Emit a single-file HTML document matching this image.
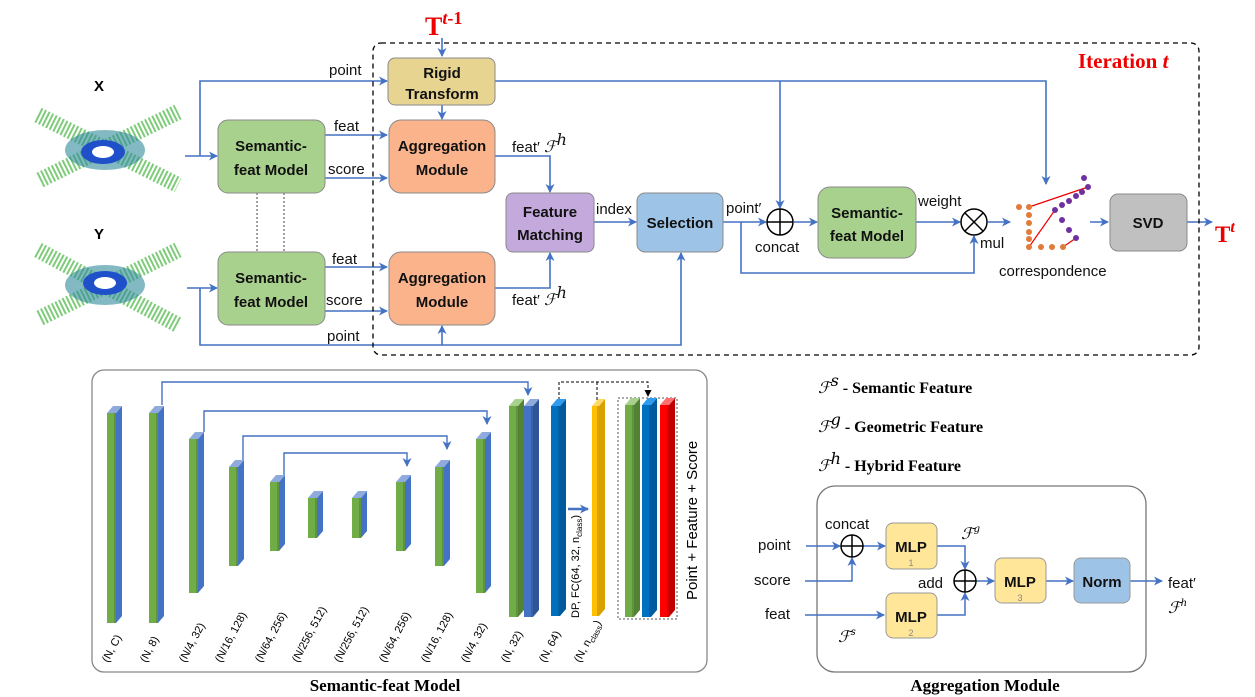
<!DOCTYPE html>
<html><head><meta charset="utf-8"><style>
body{margin:0;background:#fff}
svg{display:block;font-family:"Liberation Sans",sans-serif}
.bx{font-weight:bold;font-size:15px;fill:#111}
.lb{font-size:15px;fill:#111}
.sf{font-family:"Liberation Serif",serif;font-weight:bold}
.scr{font-family:"DejaVu Serif","Liberation Serif",serif;font-style:italic;font-size:16px}
</style></head><body>
<svg id="s" width="1255" height="697" viewBox="0 0 1255 697" xmlns="http://www.w3.org/2000/svg">
<defs>
<marker id="a" markerWidth="9" markerHeight="9" refX="8" refY="4.5" orient="auto" markerUnits="userSpaceOnUse"><path d="M0,0 L9,4.5 L0,9 L2.5,4.5z" fill="#4472c4"/></marker>
<marker id="k" markerWidth="7" markerHeight="7" refX="6" refY="3.5" orient="auto" markerUnits="userSpaceOnUse"><path d="M0,0 L7,3.5 L0,7z" fill="#000"/></marker>
</defs>
<g fill="none" stroke="#4472c4" stroke-width="1.6">
<path d="M442,38 V56" marker-end="url(#a)"/>
<path d="M200,156 V81 H387" marker-end="url(#a)"/>
<path d="M185,156 H217" marker-end="url(#a)"/>
<path d="M325,135 H387" marker-end="url(#a)"/>
<path d="M325,178 H387" marker-end="url(#a)"/>
<path d="M442,105 V119" marker-end="url(#a)"/>
<path d="M495,156 H550 V192" marker-end="url(#a)"/>
<path d="M495,288 H550 V253" marker-end="url(#a)"/>
<path d="M187,288 H217" marker-end="url(#a)"/>
<path d="M325,267 H387" marker-end="url(#a)"/>
<path d="M325,311 H387" marker-end="url(#a)"/>
<path d="M200,288 V345 H681 V253" marker-end="url(#a)"/>
<path d="M442,345 V326" marker-end="url(#a)"/>
<path d="M594,222 H636" marker-end="url(#a)"/>
<path d="M495,81 H1046 V184" marker-end="url(#a)"/>
<path d="M780,81 V208" marker-end="url(#a)"/>
<path d="M723,222 H766" marker-end="url(#a)"/>
<path d="M794,222 H817" marker-end="url(#a)"/>
<path d="M741,222 V273 H974 V236" marker-end="url(#a)"/>
<path d="M916,222 H960" marker-end="url(#a)"/>
<path d="M988,222 H1010" marker-end="url(#a)"/>
<path d="M1090,222 H1108" marker-end="url(#a)"/>
<path d="M1187,222 H1212" marker-end="url(#a)"/>
</g>
<rect x="373" y="43" width="826" height="312" rx="8" fill="none" stroke="#000" stroke-width="1.3" stroke-dasharray="5,4"/>
<text x="1078" y="68" class="sf" font-size="21" fill="#e00">Iteration <tspan font-style="italic">t</tspan></text>
<text x="425" y="35" class="sf" font-size="26" fill="#e00">T<tspan font-size="18" dy="-11" font-style="italic">t</tspan><tspan font-size="18">-1</tspan></text>
<text x="1215" y="242" class="sf" font-size="23" fill="#e00">T<tspan font-size="16" dy="-10" font-style="italic">t</tspan></text>
<text x="94" y="91" font-weight="bold" font-size="15">X</text>
<text x="94" y="239" font-weight="bold" font-size="15">Y</text>
<g>
<path d="M38,115 L178,185 M40,180 L178,112" stroke="#5fbf5a" stroke-width="16" stroke-dasharray="2,2" opacity="0.8"/>
<ellipse cx="105" cy="150" rx="40" ry="20" fill="#2e8b9a" opacity="0.6"/>
<ellipse cx="103" cy="152" rx="22" ry="12" fill="#1f4fc9"/><ellipse cx="103" cy="152" rx="11" ry="6" fill="#fff"/>
</g>
<g>
<path d="M38,250 L178,325 M40,318 L178,250" stroke="#5fbf5a" stroke-width="16" stroke-dasharray="2,2" opacity="0.8"/>
<ellipse cx="105" cy="285" rx="40" ry="20" fill="#2e8b9a" opacity="0.6"/>
<ellipse cx="105" cy="283" rx="22" ry="12" fill="#1f4fc9"/><ellipse cx="105" cy="283" rx="11" ry="6" fill="#fff"/>
</g>
<path d="M257,193 V252 M284,193 V252" stroke="#444" stroke-dasharray="2,2"/>
<g stroke="#8a8a8a" stroke-width="1">
<rect x="388" y="58" width="107" height="47" rx="7" fill="#e8d491"/>
<rect x="389" y="120" width="106" height="73" rx="12" fill="#fbb38c"/>
<rect x="389" y="252" width="106" height="73" rx="12" fill="#fbb38c"/>
<rect x="218" y="120" width="107" height="73" rx="10" fill="#a9d18e"/>
<rect x="218" y="252" width="107" height="73" rx="10" fill="#a9d18e"/>
<rect x="506" y="193" width="88" height="59" rx="7" fill="#c3a9dc"/>
<rect x="637" y="193" width="86" height="59" rx="8" fill="#9dc3e6"/>
<rect x="818" y="187" width="98" height="71" rx="12" fill="#a9d18e"/>
<rect x="1110" y="194" width="77" height="57" rx="8" fill="#c0c0c0"/>
</g>
<g class="bx" text-anchor="middle">
<text x="442" y="78">Rigid</text><text x="442" y="99">Transform</text>
<text x="442" y="151">Aggregation</text><text x="442" y="175">Module</text>
<text x="442" y="283">Aggregation</text><text x="442" y="307">Module</text>
<text x="271" y="151">Semantic-</text><text x="271" y="175">feat Model</text>
<text x="271" y="283">Semantic-</text><text x="271" y="307">feat Model</text>
<text x="550" y="217">Feature</text><text x="550" y="240">Matching</text>
<text x="680" y="228">Selection</text>
<text x="867" y="218">Semantic-</text><text x="867" y="241">feat Model</text>
<text x="1148" y="228">SVD</text>
</g>
<g class="lb">
<text x="329" y="75">point</text><text x="334" y="131">feat</text><text x="328" y="174">score</text>
<text x="332" y="264">feat</text><text x="326" y="305">score</text><text x="327" y="341">point</text>
<text x="512" y="152">feat′ <tspan class="scr">ℱ</tspan><tspan class="scr" font-size="11" dy="-7">h</tspan></text>
<text x="512" y="305">feat′ <tspan class="scr">ℱ</tspan><tspan class="scr" font-size="11" dy="-7">h</tspan></text>
<text x="596" y="214">index</text><text x="726" y="213">point′</text>
<text x="755" y="252">concat</text><text x="918" y="206">weight</text><text x="980" y="248">mul</text>
<text x="999" y="276">correspondence</text>
</g>
<g fill="#fff" stroke="#000" stroke-width="1.5">
<circle cx="780" cy="222" r="13"/><path d="M767,222H793M780,209V235"/>
<circle cx="974" cy="222" r="13"/><path d="M965,213L983,231M983,213L965,231"/>
</g>
<g>
<path d="M1029,207L1088,187M1029,247L1055,210M1063,247L1076,238" stroke="#e00" stroke-width="1.2"/>
<g fill="#e07b39"><circle cx="1019" cy="207" r="3"/><circle cx="1029" cy="207" r="3"/><circle cx="1029" cy="215" r="3"/><circle cx="1029" cy="223" r="3"/><circle cx="1029" cy="232" r="3"/><circle cx="1029" cy="239" r="3"/><circle cx="1029" cy="247" r="3"/><circle cx="1041" cy="247" r="3"/><circle cx="1052" cy="247" r="3"/><circle cx="1063" cy="247" r="3"/></g>
<g fill="#7030a0"><circle cx="1084" cy="178" r="3"/><circle cx="1088" cy="187" r="3"/><circle cx="1082" cy="192" r="3"/><circle cx="1076" cy="196" r="3"/><circle cx="1069" cy="201" r="3"/><circle cx="1062" cy="205" r="3"/><circle cx="1055" cy="210" r="3"/><circle cx="1062" cy="220" r="3"/><circle cx="1069" cy="230" r="3"/><circle cx="1076" cy="238" r="3"/></g>
</g>
<!-- Semantic-feat model -->
<rect x="92" y="370" width="615" height="302" rx="12" fill="none" stroke="#888" stroke-width="1.3"/>
<text x="385" y="691" text-anchor="middle" class="sf" font-size="17">Semantic-feat Model</text>
<g fill="none" stroke="#4472c4" stroke-width="1.4">
<path d="M162,405V382H528V395" marker-end="url(#a)"/>
<path d="M204,432V411H487V424" marker-end="url(#a)"/>
<path d="M243,460V436H447V449" marker-end="url(#a)"/>
<path d="M284,475V453H407V466" marker-end="url(#a)"/>
<path d="M568,509H588" stroke-width="2.5" marker-end="url(#a)"/>
</g>
<path d="M559,400V382H648V396" fill="none" stroke="#000" stroke-dasharray="3,2" marker-end="url(#k)"/>
<path d="M597,400V382" fill="none" stroke="#000" stroke-dasharray="3,2"/>
<rect x="618" y="398" width="59" height="221" fill="none" stroke="#555" stroke-dasharray="2,2"/>
<g id="bars"></g>
<g id="labs" font-size="11"></g>
<text transform="translate(579,618) rotate(-90)" font-size="11">DP, FC(64, 32, n<tspan font-size="8" dy="3">class</tspan><tspan dy="-3">)</tspan></text>
<text transform="translate(697,600) rotate(-90)" font-size="15">Point + Feature + Score</text>
<!-- legend -->
<g class="sf" font-size="16">
<text x="818" y="393"><tspan class="scr" font-weight="normal">ℱ</tspan><tspan class="scr" font-weight="normal" font-size="10" dy="-7">s</tspan><tspan dy="7"> - Semantic Feature</tspan></text>
<text x="818" y="432"><tspan class="scr" font-weight="normal">ℱ</tspan><tspan class="scr" font-weight="normal" font-size="10" dy="-7">g</tspan><tspan dy="7"> - Geometric Feature</tspan></text>
<text x="818" y="471"><tspan class="scr" font-weight="normal">ℱ</tspan><tspan class="scr" font-weight="normal" font-size="10" dy="-7">h</tspan><tspan dy="7"> - Hybrid Feature</tspan></text>
</g>
<rect x="817" y="486" width="329" height="186" rx="18" fill="none" stroke="#777" stroke-width="1.3"/>
<text x="985" y="691" text-anchor="middle" class="sf" font-size="17">Aggregation Module</text>
<g fill="none" stroke="#4472c4" stroke-width="1.5">
<path d="M806,546H840" marker-end="url(#a)"/>
<path d="M805,581H852V558" marker-end="url(#a)"/>
<path d="M805,615H884" marker-end="url(#a)"/>
<path d="M863,546H885" marker-end="url(#a)"/>
<path d="M937,546H965V569" marker-end="url(#a)"/>
<path d="M937,615H965V593" marker-end="url(#a)"/>
<path d="M976,581H994" marker-end="url(#a)"/>
<path d="M1046,581H1073" marker-end="url(#a)"/>
<path d="M1130,581H1162" marker-end="url(#a)"/>
</g>
<g fill="#fff" stroke="#000" stroke-width="1.5"><circle cx="852" cy="546" r="11"/><path d="M841,546H863M852,535V557"/><circle cx="965" cy="581" r="11"/><path d="M954,581H976M965,570V592"/></g>
<g stroke="#999">
<rect x="886" y="523" width="51" height="46" rx="7" fill="#ffe699"/>
<rect x="886" y="593" width="51" height="45" rx="7" fill="#ffe699"/>
<rect x="995" y="558" width="51" height="45" rx="7" fill="#ffe699"/>
<rect x="1074" y="558" width="56" height="45" rx="7" fill="#9dc3e6"/>
</g>
<g class="bx" text-anchor="middle" font-size="16">
<text x="911" y="552">MLP</text><text x="911" y="622">MLP</text><text x="1020" y="587">MLP</text><text x="1102" y="587">Norm</text>
</g>
<g font-size="9" fill="#888" text-anchor="middle"><text x="911" y="566">1</text><text x="911" y="636">2</text><text x="1020" y="601">3</text></g>
<g class="lb">
<text x="758" y="550">point</text><text x="754" y="585">score</text><text x="765" y="619">feat</text>
<text x="825" y="529">concat</text><text x="918" y="588">add</text><text x="1168" y="588">feat′</text>
</g>
<g class="scr">
<text x="961" y="539">ℱ<tspan font-size="10" dy="-7">g</tspan></text>
<text x="838" y="642">ℱ<tspan font-size="10" dy="-7">s</tspan></text>
<text x="1168" y="613">ℱ<tspan font-size="10" dy="-7">h</tspan></text>
</g>
</svg>
<script>
const barX=[107,149,189,229,270,308,352,396,435,476,509,524,551,592,625,642,660];
const barTop=[413,413,439,467,482,498,498,482,467,439,406,406,406,406,405,405,405];
const barBot=[623,623,593,566,551,538,538,551,566,593,617,617,616,616,617,617,617];
const barKind=['g','g','g','g','g','g','g','g','g','g','gg','b','db','y','gg','db','r'];
const C={g:['#70ad47','#4472c4','#8faadc'],gg:['#70ad47','#548235','#a9d18e'],b:['#4472c4','#2f5597','#8faadc'],db:['#0070c0','#005a9e','#2e9bf0'],y:['#ffc000','#d9a000','#ffd966'],r:['#ff0000','#c00000','#ff7070']};
const labX=[108,146,185,221,261,298,340,385,427,467,507,545,580];
const labT=['(N, C)','(N, 8)','(N/4, 32)','(N/16, 128)','(N/64, 256)','(N/256, 512)','(N/256, 512)','(N/64, 256)','(N/16, 128)','(N/4, 32)','(N, 32)','(N, 64)','(N, n_class)'];
const NS='http://www.w3.org/2000/svg';
const g=document.getElementById('bars');
barX.forEach((x,i)=>{
 const c=C[barKind[i]],w=barKind[i]==='y'?7:9,t=barTop[i],b=barBot[i];
 const grp=document.createElementNS(NS,'g');
 
 
 grp.innerHTML=`<rect x="${x}" y="${t}" width="${w}" height="${b-t}" fill="${c[0]}"/><rect x="${x+w-2}" y="${t}" width="2" height="${b-t}" fill="#000" opacity="0.15"/><path d="M${x+w},${t}L${x+w+6},${t-7}V${b-7}L${x+w},${b}z" fill="${c[1]}"/><path d="M${x},${t}L${x+6},${t-7}H${x+w+6}L${x+w},${t}z" fill="${c[2]}"/>`;
 g.appendChild(grp);
});
const L=document.getElementById('labs');
labX.forEach((x,i)=>{
 const t=document.createElementNS(NS,'text');
 
 
 t.setAttribute('transform',`translate(${x},663) rotate(-62)`);
 const s=labT[i];
 if(s.includes('n_class')){t.innerHTML='(N, n<tspan font-size="8" dy="3">class</tspan><tspan dy="-3">)</tspan>';}else t.textContent=s;
 L.appendChild(t);
});
</script>
</body></html>
